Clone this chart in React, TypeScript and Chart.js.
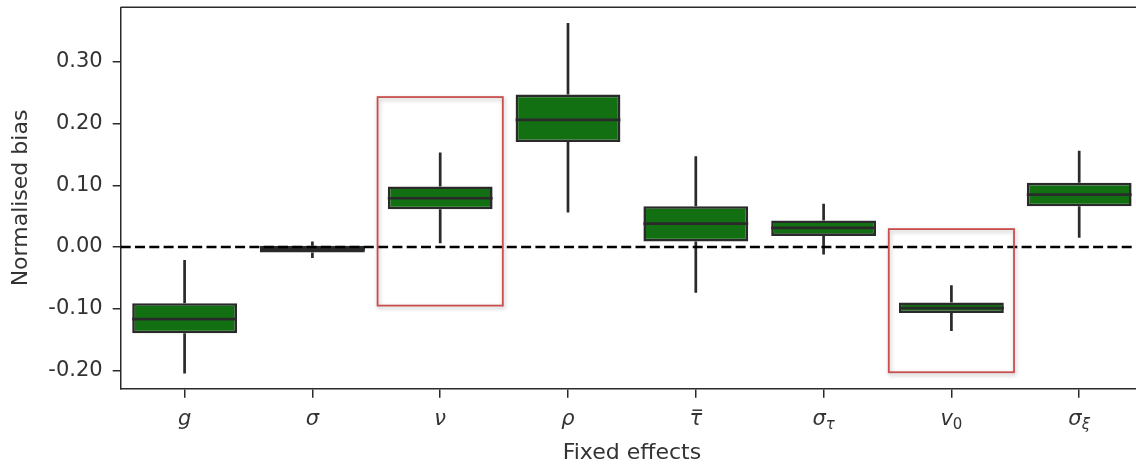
import React, { useEffect, useRef } from 'react';
import { Chart, registerables } from 'chart.js';

Chart.register(...registerables);

// ---- data ----
const labelMain = ['g', 'σ', 'ν', 'ρ', 'τ', 'σ', 'v', 'σ'];
const labelSub = ['', '', '', '', '', 'τ', '0', 'ξ'];
const labelOverbar = [false, false, false, false, true, false, false, false];
const categories = labelMain.map((m, i) => m + labelSub[i]);

const whiskerLow = [-0.205, -0.018, 0.006, 0.056, -0.074, -0.012, -0.136, 0.015];
const q1 = [-0.14, -0.009, 0.061, 0.17, 0.009, 0.018, -0.107, 0.066];
const median = [-0.117, -0.004, 0.079, 0.206, 0.038, 0.031, -0.099, 0.085];
const q3 = [-0.091, 0.002, 0.098, 0.247, 0.066, 0.043, -0.09, 0.104];
const whiskerHigh = [-0.021, 0.009, 0.153, 0.363, 0.147, 0.07, -0.062, 0.156];

const yTicks = [-0.2, -0.1, 0.0, 0.1, 0.2, 0.3];
const yMin = -0.2297;
const yMax = 0.3885;

const highlightCats = [2, 6];
const highlightTop = [0.243, 0.029];
const highlightBottom = [-0.095, -0.203];
const highlightHalf = 0.49;

const yTitle = 'Normalised bias';
const xTitle = 'Fixed effects';

// ---- style ----
const FONT = "'DejaVu Sans', sans-serif";
const EDGE = '#2a2a2a';
const BOX = '#127012';
const TEXT = '#333333';
const RED = '#c84f4f';

const extrasPlugin = {
  id: 'boxExtras',
  afterDatasetsDraw(chart: any) {
    const ctx = chart.ctx as CanvasRenderingContext2D;
    const xs = chart.scales.x;
    const ys = chart.scales.y;
    const area = chart.chartArea;
    const meta = chart.getDatasetMeta(0);
    ctx.save();
    // whiskers and medians
    ctx.strokeStyle = EDGE;
    ctx.lineWidth = 2.7;
    meta.data.forEach((bar: any, i: number) => {
      const cx = bar.x;
      const hw = bar.width / 2;
      ctx.beginPath();
      ctx.moveTo(cx, ys.getPixelForValue(whiskerHigh[i]));
      ctx.lineTo(cx, ys.getPixelForValue(q3[i]));
      ctx.moveTo(cx, ys.getPixelForValue(q1[i]));
      ctx.lineTo(cx, ys.getPixelForValue(whiskerLow[i]));
      ctx.stroke();
      const ym = ys.getPixelForValue(median[i]);
      ctx.beginPath();
      ctx.moveTo(cx - hw, ym);
      ctx.lineTo(cx + hw, ym);
      ctx.stroke();
    });
    // zero dashed line
    const y0 = ys.getPixelForValue(0);
    ctx.setLineDash([10, 4.3]);
    ctx.strokeStyle = '#000';
    ctx.lineWidth = 2.5;
    ctx.beginPath();
    ctx.moveTo(area.left, y0);
    ctx.lineTo(area.right, y0);
    ctx.stroke();
    ctx.setLineDash([]);
    // highlight rectangles
    highlightCats.forEach((c, k) => {
      const x0 = xs.getPixelForValue(c - highlightHalf);
      const x1 = xs.getPixelForValue(c + highlightHalf);
      const yt = ys.getPixelForValue(highlightTop[k]);
      const yb = ys.getPixelForValue(highlightBottom[k]);
      ctx.save();
      ctx.shadowColor = 'rgba(0,0,0,0.28)';
      ctx.shadowBlur = 4;
      ctx.shadowOffsetX = 1;
      ctx.shadowOffsetY = 2;
      ctx.strokeStyle = RED;
      ctx.lineWidth = 1.8;
      ctx.strokeRect(x0, yt, x1 - x0, yb - yt);
      ctx.restore();
    });
    // top and right frame
    ctx.strokeStyle = EDGE;
    ctx.lineWidth = 1.5;
    ctx.beginPath();
    ctx.moveTo(area.left, area.top);
    ctx.lineTo(area.right, area.top);
    ctx.lineTo(area.right, area.bottom);
    ctx.stroke();
    ctx.restore();
  },
  afterDraw(chart: any) {
    const ctx = chart.ctx as CanvasRenderingContext2D;
    const xs = chart.scales.x;
    ctx.save();
    ctx.fillStyle = TEXT;
    ctx.strokeStyle = TEXT;
    ctx.textBaseline = 'alphabetic';
    const baseY = xs.top + 36;
    const mainFont = `italic 21px ${FONT}`;
    const subItalic = `italic 15px ${FONT}`;
    const subUpright = `15px ${FONT}`;
    labelMain.forEach((m, i) => {
      const cx = xs.getPixelForValue(i);
      ctx.font = mainFont;
      const wm = ctx.measureText(m).width;
      const sub = labelSub[i];
      const subFont = /[0-9]/.test(sub) ? subUpright : subItalic;
      ctx.font = subFont;
      const ws = sub ? ctx.measureText(sub).width : 0;
      const total = wm + ws;
      const left = cx - total / 2;
      ctx.font = mainFont;
      ctx.textAlign = 'left';
      ctx.fillText(m, left, baseY);
      if (sub) {
        ctx.font = subFont;
        ctx.fillText(sub, left + wm, baseY + 4);
      }
      if (labelOverbar[i]) {
        ctx.lineWidth = 1.5;
        ctx.beginPath();
        ctx.moveTo(left + 3, baseY - 14.5);
        ctx.lineTo(left + wm, baseY - 14.5);
        ctx.stroke();
      }
    });
    ctx.restore();
  },
};

export default function App() {
  const ref = useRef<HTMLCanvasElement | null>(null);
  useEffect(() => {
    if (!ref.current) return;
    const chart = new Chart(ref.current, {
      type: 'bar',
      data: {
        labels: categories,
        datasets: [
          {
            data: q1.map((v, i) => [v, q3[i]]) as any,
            backgroundColor: BOX,
            borderColor: EDGE,
            borderWidth: 2.6,
            borderSkipped: false,
            barPercentage: 0.82,
            categoryPercentage: 1,
          },
        ],
      },
      options: {
        responsive: false,
        animation: false,
        devicePixelRatio: 1,
        layout: { padding: { left: 0, top: 7.3, right: 16.9, bottom: 0 } },
        plugins: { legend: { display: false }, tooltip: { enabled: false } },
        scales: {
          x: {
            type: 'category',
            offset: true,
            grid: {
              offset: false,
              drawOnChartArea: false,
              drawTicks: true,
              tickLength: 9,
              color: EDGE,
              lineWidth: 1.5,
            },
            border: { display: true, color: EDGE, width: 1.5 },
            ticks: { display: false },
            title: {
              display: true,
              text: xTitle,
              color: TEXT,
              font: { family: FONT, size: 22 },
              padding: { top: 0, bottom: -1.5 },
            },
            afterFit: (scale: any) => {
              scale.height = 465 - 388.7;
              scale.paddingLeft = 0;
              scale.paddingRight = 0;
            },
          },
          y: {
            type: 'linear',
            min: yMin,
            max: yMax,
            grid: {
              drawOnChartArea: false,
              drawTicks: true,
              tickLength: 8,
              color: EDGE,
              lineWidth: 1.5,
            },
            border: { display: true, color: EDGE, width: 1.5 },
            afterBuildTicks: (scale: any) => {
              scale.ticks = yTicks.map((v) => ({ value: v }));
            },
            ticks: {
              color: TEXT,
              padding: 10,
              font: { family: FONT, size: 21 },
              callback: (v: any) => Number(v).toFixed(2),
            },
            title: {
              display: true,
              text: yTitle,
              color: TEXT,
              font: { family: FONT, size: 22 },
              padding: { top: 8.5, bottom: 0 },
            },
            afterFit: (scale: any) => {
              scale.width = 120.7;
              scale.paddingTop = 0;
              scale.paddingBottom = 0;
            },
          },
        },
      },
      plugins: [extrasPlugin],
    });
    return () => chart.destroy();
  }, []);
  return (
    <div
      style={{
        position: 'fixed',
        left: 0,
        top: 0,
        width: 1136,
        height: 465,
        overflow: 'hidden',
        background: '#fff',
      }}
    >
      <canvas ref={ref} width={1160} height={465} style={{ display: 'block' }} />
    </div>
  );
}
